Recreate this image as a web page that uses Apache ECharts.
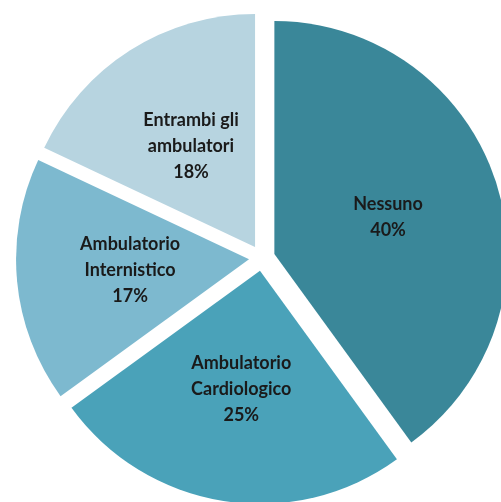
<!DOCTYPE html>
<html lang="it">
<head>
  <meta charset="UTF-8">
  <title>Ambulatori</title>
  <style>
    html, body {
      height: 100%;
      width: 100%;
      margin: 0;
      padding: 0;
      background: #fff;
    }
  </style>
  <script src="https://cdn.jsdelivr.net/npm/echarts@6/dist/echarts.min.js"></script>
</head>
<body>
<div id="main" style="width: 501px; height: 502px;"></div>

<script>
  // dati
  var labels = ['Nessuno', 'Ambulatorio\nCardiologico', 'Ambulatorio\nInternistico', 'Entrambi gli\nambulatori'];
  var values = [40, 25, 17, 18];
  var colors = ['#3a8799', '#4aa2b9', '#7db9cf', '#b7d4e0'];

  var chart = echarts.init(document.getElementById('main'));

  var data = values.map(function (v, i) {
    return {
      name: labels[i],
      value: v,
      selected: true,
      itemStyle: { color: colors[i] }
    };
  });

  var option = {
    animation: false,
    series: [
      {
        type: 'pie',
        center: [262, 258],
        radius: [0, 233],
        startAngle: 90,
        clockwise: true,
        selectedMode: 'multiple',
        selectedOffset: 13,
        silent: true,
        label: {
          show: true,
          position: 'inner',
          formatter: '{b}\n{c}%',
          color: '#1a1a1a',
          fontFamily: 'Lato',
          fontWeight: 'bold',
          fontSize: 18,
          lineHeight: 26
        },
        labelLine: { show: false },
        itemStyle: { borderWidth: 0 },
        emphasis: { scale: false },
        data: data
      }
    ]
  };
  chart.setOption(option);
</script>
</body>
</html>
